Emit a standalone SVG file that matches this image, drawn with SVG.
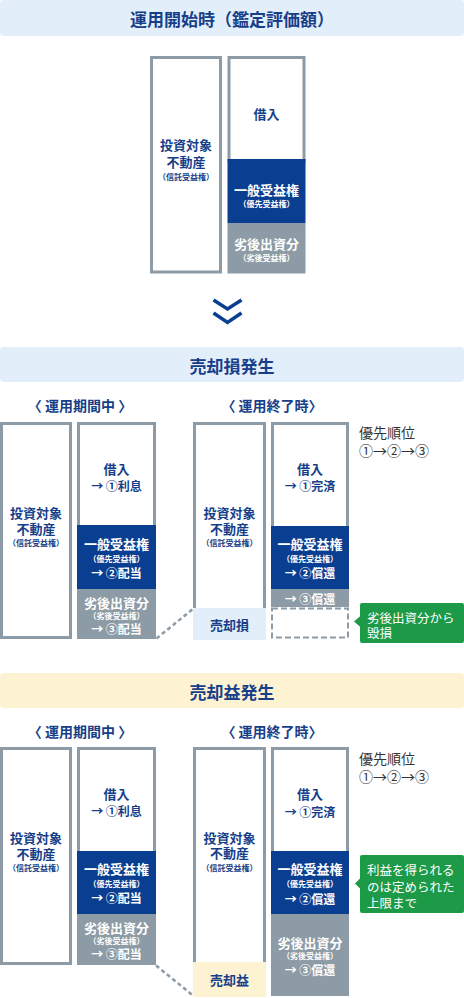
<svg xmlns="http://www.w3.org/2000/svg" width="464" height="998" viewBox="0 0 464 998">
<style>
.frame{fill:#fff;stroke:#8c9ba5;stroke-width:3}
.navy{fill:#0a3e91}
.grey{fill:#8c9ba5}
.t{font-family:"Noto Sans CJK JP","Noto Sans",sans-serif;font-weight:700;text-anchor:middle;dominant-baseline:central}
.b{fill:#173f89}
.w{fill:#fff}
.m{font-size:13px}
.a{font-size:12px}
.s{font-size:8px}
.h{font-size:17px}
.sub{font-size:14px}
.prio{font-family:"Noto Sans CJK JP","Noto Sans",sans-serif;font-size:14px;fill:#333;dominant-baseline:central}
.note{font-family:"Noto Sans CJK JP","Noto Sans",sans-serif;font-size:12.5px;fill:#fff;dominant-baseline:central}
.green{fill:#1c9a47}
.dash{fill:none;stroke:#8c9ba5;stroke-width:2.5;stroke-dasharray:4 3}
</style>

<!-- Section 1 -->
<g id="banner1">
<rect x="0" y="0" width="464" height="36" rx="4" fill="#e3eefb"/>
<text class="t b h" x="232" y="18">運用開始時（鑑定評価額）</text>
</g>
<g id="s1-asset">
<rect class="frame" x="151.5" y="57.5" width="69" height="214.5"/>
<text class="t b m" x="186" y="144">投資対象</text>
<text class="t b m" x="186" y="161">不動産</text>
<text class="t b s" x="186" y="176">（信託受益権）</text>
</g>
<g id="s1-capital">
<rect class="frame" x="229" y="57.5" width="75" height="104"/>
<rect class="navy" x="227.5" y="159" width="78" height="64"/>
<rect class="grey" x="227.5" y="223" width="78" height="50.5"/>
<text class="t b m" x="266.5" y="113">借入</text>
<text class="t w m" x="266.5" y="189">一般受益権</text>
<text class="t w s" x="266.5" y="203">（優先受益権）</text>
<text class="t w m" x="266.5" y="243">劣後出資分</text>
<text class="t w s" x="266.5" y="257">（劣後受益権）</text>
</g>
<g id="chevron">
<polyline points="213.5,300 227.5,309 241.5,300" fill="none" stroke="#0a3e91" stroke-width="3.5"/>
<polyline points="213.5,313 227.5,322.5 241.5,313" fill="none" stroke="#0a3e91" stroke-width="3.5"/>
</g>

<!-- Section 2 -->
<g id="banner2">
<rect x="0" y="347" width="464" height="35" rx="4" fill="#e3eefb"/>
<text class="t b h" x="232" y="365">売却損発生</text>
<text class="t b sub" x="80" y="405">〈 運用期間中 〉</text>
<text class="t b sub" x="272" y="405">〈 運用終了時〉</text>
</g>
<g id="s2-asset-during">
<rect class="frame" x="1.5" y="423.5" width="69" height="214"/>
<text class="t b m" x="36" y="512">投資対象</text>
<text class="t b m" x="36" y="528">不動産</text>
<text class="t b s" x="36" y="542">（信託受益権）</text>
</g>
<g id="s2-capital-during">
<rect class="frame" x="78.5" y="423.5" width="76" height="103"/>
<rect class="navy" x="77" y="525" width="79" height="64"/>
<rect class="grey" x="77" y="589" width="79" height="50"/>
<text class="t b m" x="116.5" y="468">借入</text>
<text class="t b a" x="116.5" y="485">→ ①利息</text>
<text class="t w m" x="116.5" y="543">一般受益権</text>
<text class="t w s" x="116.5" y="558">（優先受益権）</text>
<text class="t w a" x="116.5" y="572">→ ②配当</text>
<text class="t w m" x="116.5" y="602">劣後出資分</text>
<text class="t w s" x="116.5" y="615">（劣後受益権）</text>
<text class="t w a" x="116.5" y="628">→ ③配当</text>
</g>
<g id="s2-asset-end">
<rect class="frame" x="194.5" y="423.5" width="70" height="190"/>
<rect x="193" y="608" width="73" height="32" fill="#e3eefb"/>
<text class="t b m" x="229.5" y="512">投資対象</text>
<text class="t b m" x="229.5" y="528">不動産</text>
<text class="t b s" x="229.5" y="542">（信託受益権）</text>
<text class="t b m" x="229.5" y="624">売却損</text>
</g>
<g id="s2-capital-end">
<rect class="frame" x="272.5" y="423.5" width="75" height="104"/>
<rect class="navy" x="271" y="526" width="78" height="63"/>
<rect class="grey" x="271" y="589" width="78" height="18"/>
<rect x="272" y="608.5" width="76" height="29" fill="none" stroke="#8c9ba5" stroke-width="2" stroke-dasharray="6 3"/>
<text class="t b m" x="310" y="468">借入</text>
<text class="t b a" x="310" y="485">→ ①完済</text>
<text class="t w m" x="310" y="543">一般受益権</text>
<text class="t w s" x="310" y="558">（優先受益権）</text>
<text class="t w a" x="310" y="572">→ ②償還</text>
<text class="t w a" x="310" y="598">→ ③償還</text>
</g>
<g id="s2-priority">
<text class="prio" x="359" y="432">優先順位</text>
<text class="prio" x="359" y="450">①→②→③</text>
</g>
<g id="s2-note">
<rect class="green" x="360" y="603" width="104" height="40" rx="2"/>
<polygon class="green" points="354,621.5 361,615.5 361,627.5"/>
<text class="note" x="367" y="617">劣後出資分から</text>
<text class="note" x="367" y="632">毀損</text>
</g>

<!-- Section 3 -->
<g id="banner3">
<rect x="0" y="673" width="464" height="35" rx="4" fill="#fdf3d2"/>
<text class="t b h" x="232" y="691">売却益発生</text>
<text class="t b sub" x="80" y="731">〈 運用期間中 〉</text>
<text class="t b sub" x="272" y="731">〈 運用終了時〉</text>
</g>
<g id="s3-asset-during">
<rect class="frame" x="1.5" y="748.5" width="69" height="215"/>
<text class="t b m" x="36" y="837">投資対象</text>
<text class="t b m" x="36" y="853">不動産</text>
<text class="t b s" x="36" y="867">（信託受益権）</text>
</g>
<g id="s3-capital-during">
<rect class="frame" x="78.5" y="748.5" width="76" height="104"/>
<rect class="navy" x="77" y="851" width="79" height="63"/>
<rect class="grey" x="77" y="914" width="79" height="51"/>
<text class="t b m" x="116.5" y="793">借入</text>
<text class="t b a" x="116.5" y="810">→ ①利息</text>
<text class="t w m" x="116.5" y="868">一般受益権</text>
<text class="t w s" x="116.5" y="883">（優先受益権）</text>
<text class="t w a" x="116.5" y="897">→ ②配当</text>
<text class="t w m" x="116.5" y="927">劣後出資分</text>
<text class="t w s" x="116.5" y="940">（劣後受益権）</text>
<text class="t w a" x="116.5" y="953">→ ③配当</text>
</g>
<g id="s3-asset-end">
<rect class="frame" x="194.5" y="748.5" width="70" height="220"/>
<rect x="193" y="962" width="73" height="35" fill="#fdf3d2"/>
<text class="t b m" x="229.5" y="837">投資対象</text>
<text class="t b m" x="229.5" y="852">不動産</text>
<text class="t b s" x="229.5" y="867">（信託受益権）</text>
<text class="t b m" x="229.5" y="979">売却益</text>
</g>
<g id="s3-capital-end">
<rect class="frame" x="272.5" y="748.5" width="75" height="104"/>
<rect class="navy" x="271" y="851" width="78" height="63"/>
<rect class="grey" x="271" y="914" width="78" height="82"/>
<text class="t b m" x="310" y="793">借入</text>
<text class="t b a" x="310" y="811">→ ①完済</text>
<text class="t w m" x="310" y="868">一般受益権</text>
<text class="t w s" x="310" y="883">（優先受益権）</text>
<text class="t w a" x="310" y="898">→ ②償還</text>
<text class="t w m" x="310" y="942">劣後出資分</text>
<text class="t w s" x="310" y="955">（劣後受益権）</text>
<text class="t w a" x="310" y="969">→ ③償還</text>
</g>
<g id="s3-priority">
<text class="prio" x="359" y="758">優先順位</text>
<text class="prio" x="359" y="776">①→②→③</text>
</g>
<g id="s3-note">
<rect class="green" x="360" y="855" width="104" height="58" rx="2"/>
<polygon class="green" points="355,883.5 361,877.5 361,889.5"/>
<text class="note" x="367" y="869">利益を得られる</text>
<text class="note" x="367" y="886">のは定められた</text>
<text class="note" x="367" y="902">上限まで</text>
</g>

<g id="connectors">
<line class="dash" x1="156.5" y1="638.5" x2="193.5" y2="608.5"/>
<line class="dash" x1="156" y1="965.5" x2="193" y2="995.5"/>
</g>
</svg>
